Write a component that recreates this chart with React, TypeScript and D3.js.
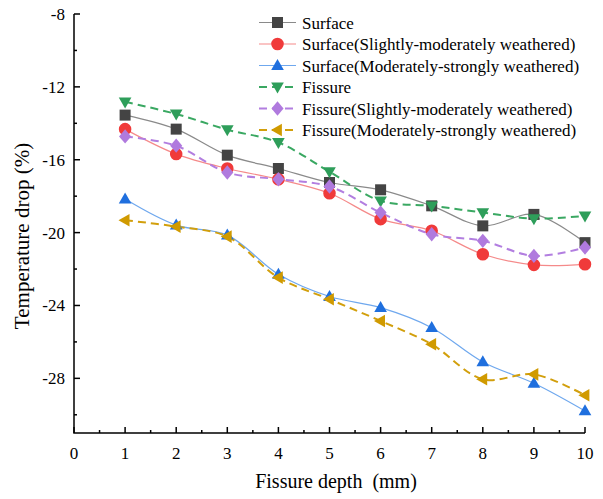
import { useEffect, useRef } from 'react';
import * as d3 from 'd3';

const depths = [1, 2, 3, 4, 5, 6, 7, 8, 9, 10];
const surface = [-13.55, -14.32, -15.75, -16.48, -17.25, -17.65, -18.53, -19.63, -19.0, -20.55];
const surfaceSM = [-14.32, -15.69, -16.48, -17.07, -17.84, -19.26, -19.9, -21.19, -21.77, -21.74];
const surfaceMS = [-18.16, -19.59, -20.14, -22.29, -23.51, -24.12, -25.22, -27.1, -28.27, -29.79];
const fissure = [-12.82, -13.49, -14.35, -15.05, -16.66, -18.26, -18.53, -18.9, -19.23, -19.08];
const fissureSM = [-14.72, -15.23, -16.7, -17.07, -17.47, -18.9, -20.09, -20.45, -21.28, -20.82];
const fissureMS = [-19.32, -19.67, -20.22, -22.47, -23.66, -24.85, -26.13, -28.05, -27.78, -28.93];

const xTicks = [0, 1, 2, 3, 4, 5, 6, 7, 8, 9, 10];
const yTicks = [-28, -24, -20, -16, -12, -8];

const series = [
  { name: 'Surface', values: surface, line: '#8a8a8a', fill: '#444444', shape: 'square', dashed: false },
  { name: 'Surface(Slightly-moderately weathered)', values: surfaceSM, line: '#f58a8a', fill: '#f03a3a', shape: 'circle', dashed: false },
  { name: 'Surface(Moderately-strongly weathered)', values: surfaceMS, line: '#6fa8ee', fill: '#1f6fde', shape: 'up', dashed: false },
  { name: 'Fissure', values: fissure, line: '#3aa862', fill: '#2e9e5a', shape: 'down', dashed: true },
  { name: 'Fissure(Slightly-moderately weathered)', values: fissureSM, line: '#b27ee0', fill: '#b07ade', shape: 'diamond', dashed: true },
  { name: 'Fissure(Moderately-strongly weathered)', values: fissureMS, line: '#d29f0c', fill: '#d09a00', shape: 'left', dashed: true },
];

function markerPath(shape: string, s: number) {
  switch (shape) {
    case 'square': return `M${-s},${-s}H${s}V${s}H${-s}Z`;
    case 'circle': return d3.symbol(d3.symbolCircle, Math.PI * s * s * 1.3)() as string;
    case 'up': return `M0,${-s * 1.2}L${s * 1.15},${s * 0.8}L${-s * 1.15},${s * 0.8}Z`;
    case 'down': return `M0,${s * 1.2}L${s * 1.15},${-s * 0.8}L${-s * 1.15},${-s * 0.8}Z`;
    case 'left': return `M${-s * 1.2},0L${s * 0.8},${-s * 1.15}L${s * 0.8},${s * 1.15}Z`;
    default: return `M0,${-s * 1.3}L${s * 1.1},0L0,${s * 1.3}L${-s * 1.1},0Z`;
  }
}

export default function App() {
  const ref = useRef<SVGSVGElement>(null);

  useEffect(() => {
    const svg = d3.select(ref.current);
    svg.selectAll('*').remove();
    const font = '"Liberation Serif", "Times New Roman", serif';

    const x = d3.scaleLinear().domain([0, 10]).range([74, 585]);
    const y = d3.scaleLinear().domain([-31, -8]).range([433, 14]);

    const g = svg.append('g');

    // data lines
    series.forEach(s => {
      const line = d3.line<number>()
        .x((_, i) => x(depths[i]))
        .y(d => y(d))
        .curve(d3.curveCatmullRom.alpha(0.5));
      g.append('path')
        .attr('d', line(s.values))
        .attr('fill', 'none')
        .attr('stroke', s.line)
        .attr('stroke-width', s.dashed ? 2 : 1.2)
        .attr('stroke-dasharray', s.dashed ? '8,5' : null);
    });
    series.forEach(s => {
      g.selectAll(null)
        .data(s.values)
        .enter()
        .append('path')
        .attr('transform', (d, i) => `translate(${x(depths[i])},${y(d)})`)
        .attr('d', markerPath(s.shape, 5.5))
        .attr('fill', s.fill);
    });

    // axes
    const ax = svg.append('g').attr('stroke', '#000').attr('stroke-width', 1.5);
    ax.append('path').attr('d', `M${x(0)},${y(-8)}V${y(-31)}H${x(10)}`).attr('fill', 'none');
    d3.range(0, 10.01, 0.5).forEach(v => {
      const major = Number.isInteger(v);
      ax.append('line').attr('x1', x(v)).attr('x2', x(v))
        .attr('y1', y(-31)).attr('y2', y(-31) - (major ? 6 : 3));
    });
    d3.range(-30, -7.9, 2).forEach(v => {
      const major = v % 4 === 0;
      ax.append('line').attr('y1', y(v)).attr('y2', y(v))
        .attr('x1', x(0)).attr('x2', x(0) + (major ? 6 : 3));
    });

    svg.append('g').selectAll('text').data(xTicks).enter().append('text')
      .attr('x', d => x(d)).attr('y', 459)
      .attr('text-anchor', 'middle')
      .style('font-family', font).style('font-size', '17px')
      .text(d => d);
    svg.append('g').selectAll('text').data(yTicks).enter().append('text')
      .attr('x', 65).attr('y', d => y(d) + 6)
      .attr('text-anchor', 'end')
      .style('font-family', font).style('font-size', '17px')
      .text(d => d);

    svg.append('text')
      .attr('x', 336).attr('y', 488)
      .attr('text-anchor', 'middle')
      .style('font-family', font).style('font-size', '20px')
      .style('white-space', 'pre')
      .text('Fissure depth  (mm)');
    svg.append('text')
      .attr('transform', `translate(29,236) rotate(-90)`)
      .attr('text-anchor', 'middle')
      .style('font-family', font).style('font-size', '21px')
      .text('Temperature drop (%)');

    // legend
    const lg = svg.append('g');
    series.forEach((s, i) => {
      const ly = 22.5 + i * 21.5;
      lg.append('line').attr('x1', 259).attr('x2', 296).attr('y1', ly).attr('y2', ly)
        .attr('stroke', s.line).attr('stroke-width', s.dashed ? 2 : 1.2)
        .attr('stroke-dasharray', s.dashed ? '8,5' : null);
      lg.append('path').attr('transform', `translate(277.5,${ly})`)
        .attr('d', markerPath(s.shape, 5.5)).attr('fill', s.fill);
      lg.append('text').attr('x', 302).attr('y', ly + 6)
        .style('font-family', font).style('font-size', '17px')
        .text(s.name);
    });
  }, []);

  return (
    <svg ref={ref} width={603} height={499}
      style={{ position: 'absolute', left: 0, top: 0, background: '#fff' }} />
  );
}
